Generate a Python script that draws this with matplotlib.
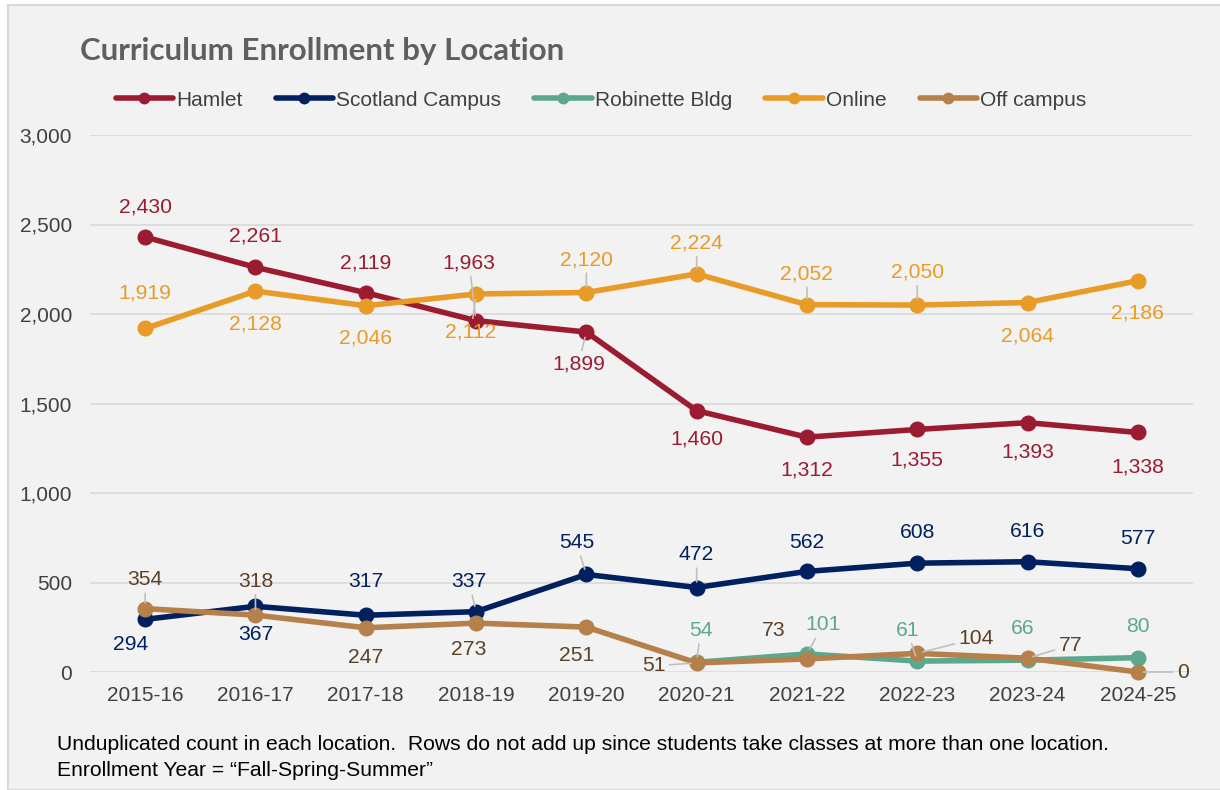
import matplotlib
matplotlib.use("Agg")
import matplotlib.pyplot as plt
from matplotlib.patches import Rectangle
from matplotlib.ticker import FuncFormatter
import numpy as np

plt.rcParams['font.family'] = ['Liberation Sans', 'DejaVu Sans']

# data
years = ["2015-16", "2016-17", "2017-18", "2018-19", "2019-20",
         "2020-21", "2021-22", "2022-23", "2023-24", "2024-25"]
hamlet = [2430, 2261, 2119, 1963, 1899, 1460, 1312, 1355, 1393, 1338]
scotland = [294, 367, 317, 337, 545, 472, 562, 608, 616, 577]
robinette = [None, None, None, None, None, 54, 101, 61, 66, 80]
online = [1919, 2128, 2046, 2112, 2120, 2224, 2052, 2050, 2064, 2186]
off_campus = [354, 318, 247, 273, 251, 51, 73, 104, 77, 0]

# label offsets in pixels (dx, dy up), and whether a leader line is drawn
hamlet_off = [(0, 30), (0, 31), (0, 30), (-7, 58), (-8, -32), (0, -28), (0, -33), (0, -31), (0, -29), (0, -35)]
hamlet_lead = [0, 0, 0, 1, 1, 0, 0, 0, 0, 0]
online_off = [(0, 35), (0, -33), (0, -32), (-5, -38), (0, 33), (0, 31), (0, 31), (0, 33), (0, -33), (0, -32)]
online_lead = [0, 0, 0, 1, 1, 1, 1, 1, 0, 0]
scot_off = [(-15, -25), (0, -28), (0, 34), (-7, 30), (-10, 32), (0, 33), (0, 29), (0, 31), (0, 30), (0, 30)]
scot_lead = [0, 0, 0, 1, 1, 1, 0, 0, 0, 0]
off_off = [(0, 29), (0, 34), (0, -30), (-7, -26), (-10, -28), (-43, -3), (-33, 28), (59, 15), (43, 13), (45, 0)]
off_lead = [1, 1, 0, 0, 0, 1, 0, 1, 1, 1]
rob_off = [None, None, None, None, None, (4, 32), (16, 29), (-10, 31), (-5, 32), (0, 31)]
rob_lead = [0, 0, 0, 0, 0, 1, 1, 1, 0, 0]

c_hamlet = "#9B1B30"
c_scot = "#002060"
c_rob = "#5BA88E"
c_online = "#E89B26"
c_off = "#B5804A"
c_off_txt = "#5C4126"

fig = plt.figure(figsize=(12.2, 7.9), dpi=100, facecolor="white")
fig.patches.append(Rectangle((8 / 1220, 0), 1.0, 1 - 5 / 790, transform=fig.transFigure,
                             facecolor="#F2F2F2", edgecolor="#D9D9D9", lw=1.5, zorder=-10))

ax = fig.add_axes([90 / 1220, 1 - 672 / 790, (1193 - 90) / 1220, (672 - 135) / 790])
ax.set_facecolor("none")
x = np.arange(len(years))

series = [
    ("Hamlet", hamlet, c_hamlet, c_hamlet, hamlet_off, hamlet_lead),
    ("Scotland Campus", scotland, c_scot, c_scot, scot_off, scot_lead),
    ("Robinette Bldg", robinette, c_rob, c_rob, rob_off, rob_lead),
    ("Online", online, c_online, c_online, online_off, online_lead),
    ("Off campus", off_campus, c_off, c_off_txt, off_off, off_lead),
]

for name, vals, col, tcol, offs, leads in series:
    y = np.array([np.nan if v is None else v for v in vals], dtype=float)
    ax.plot(x, y, color=col, lw=4, marker="o", markersize=10.5, label=name,
            solid_capstyle="round", zorder=3, clip_on=False)
    for i, v in enumerate(vals):
        if v is None:
            continue
        dx, dy = offs[i]
        arrow = None
        if leads[i]:
            arrow = dict(arrowstyle="-", color="#BFBFBF", lw=1.2, shrinkA=1, shrinkB=4)
        ax.annotate(f"{v:,}", xy=(i, v), xytext=(dx, dy), textcoords="offset pixels",
                    ha="center", va="center", fontsize=15.2, color=tcol,
                    arrowprops=arrow, zorder=4, annotation_clip=False)

ax.set_xlim(-0.5, len(years) - 0.5)
ax.set_ylim(0, 3000)
ax.set_yticks(np.arange(0, 3001, 500))
ax.yaxis.set_major_formatter(FuncFormatter(lambda v, p: f"{int(v):,}"))
ax.set_xticks(x)
ax.set_xticklabels(years)
ax.tick_params(axis="both", length=0, labelsize=15, labelcolor="#404040")
ax.tick_params(axis="x", pad=10)
ax.tick_params(axis="y", pad=13)
ax.grid(axis="y", color="#D9D9D9", lw=1.2)
ax.set_axisbelow(True)
for s in ax.spines.values():
    s.set_visible(False)

fig.text(80 / 1220, 1 - 51 / 790, "Curriculum Enrollment by Location", fontsize=22.5,
         fontweight="bold", color="#5F5F5F", va="center", ha="left", family=["Lato", "DejaVu Sans"])

leg = ax.legend(loc="center", bbox_to_anchor=(601 / 1220, 1 - 100 / 790), bbox_transform=fig.transFigure,
                ncol=5, frameon=False, fontsize=15, handlelength=2.75, handletextpad=0.15,
                columnspacing=1.6, labelcolor="#404040")
for h in leg.legend_handles:
    h.set_markersize(7.5)

notes = ["Unduplicated count in each location.  Rows do not add up since students take classes at more than one location.",
         "Enrollment Year = \u201cFall-Spring-Summer\u201d"]
fig.text(57 / 1220, 1 - 745 / 790, notes[0], fontsize=15.2, color="black", va="center")
fig.text(57 / 1220, 1 - 770 / 790, notes[1], fontsize=15.2, color="black", va="center")

fig.savefig("out.png", dpi=100, facecolor=fig.get_facecolor())
